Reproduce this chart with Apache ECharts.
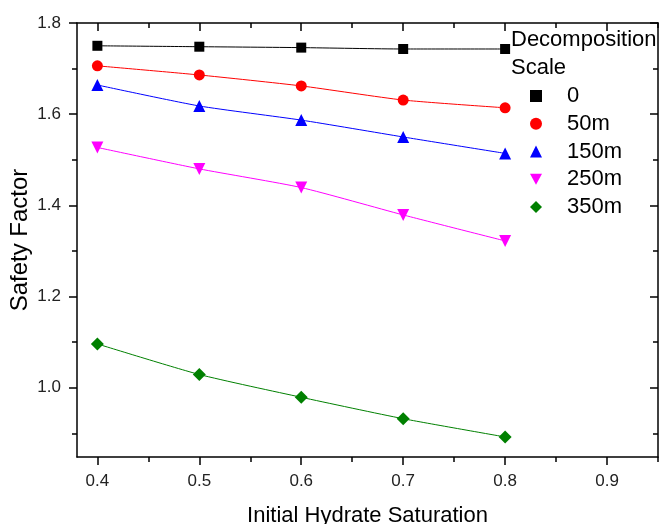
<!DOCTYPE html>
<html>
<head>
<meta charset="utf-8">
<script src="https://cdn.jsdelivr.net/npm/echarts@6/dist/echarts.min.js"></script>
<style>
  html, body { margin: 0; padding: 0; background: #fff; }
  #chart { width: 659px; height: 524px; }
</style>
</head>
<body>
<div id="chart"></div>
<script>
// saturation values on the x axis
const saturation = [0.4, 0.5, 0.6, 0.7, 0.8]

const scaleNames = ['0', '50m', '150m', '250m', '350m']
const scale0 = [1.750, 1.748, 1.746, 1.743, 1.743]
const scale50 = [1.706, 1.686, 1.662, 1.631, 1.614]
const scale150 = [1.664, 1.618, 1.587, 1.550, 1.514]
const scale250 = [1.527, 1.480, 1.439, 1.379, 1.322]
const scale350 = [1.096, 1.029, 0.979, 0.932, 0.892]

const xMajor = [0.4, 0.5, 0.6, 0.7, 0.8, 0.9]
const xMinor = [0.45, 0.55, 0.65, 0.75, 0.85, 0.95]
const yMajor = [1.0, 1.2, 1.4, 1.6, 1.8]
const yMinor = [0.9, 1.1, 1.3, 1.5, 1.7]

const colors = ['#000000', '#ff0000', '#0000ff', '#ff00ff', '#008000']
const symbols = ['rect', 'circle', 'triangle', 'path://M0,0 L10,0 L5,9 Z', 'diamond']
const symbolSizes = [10, 11, 12, 12, 13]

const chart = echarts.init(document.getElementById('chart'))

const X_MIN = 0.38, X_MAX = 0.95
const Y_MIN = 0.848, Y_MAX = 1.8
const font = 'Liberation Sans, Arial, sans-serif'

const tickAxis = (dim, pos, values, len, inside, extra) => Object.assign({
  type: 'value',
  position: pos,
  min: dim === 'x' ? X_MIN : Y_MIN,
  max: dim === 'x' ? X_MAX : Y_MAX,
  axisLine: { show: false },
  splitLine: { show: false },
  axisLabel: { show: false },
  axisTick: {
    show: true,
    inside: inside,
    length: len,
    customValues: values,
    lineStyle: { color: '#000', width: 1.5 }
  }
}, extra || {})

const makeSeries = (name, data, i) => ({
  name: name,
  type: 'line',
  xAxisIndex: 0,
  yAxisIndex: 0,
  smooth: 0.2,
  data: data.map((v, k) => [saturation[k], v]),
  symbol: symbols[i],
  symbolSize: symbolSizes[i],
  itemStyle: { color: colors[i] },
  lineStyle: { color: colors[i], width: 1 }
})

const option = {
  animation: false,
  title: {
    text: 'Decomposition\nScale',
    left: 511,
    top: 26,
    padding: 0,
    textStyle: { fontFamily: font, fontSize: 22, fontWeight: 'normal', color: '#000', lineHeight: 28 }
  },
  legend: {
    orient: 'vertical',
    left: 530,
    top: 85,
    padding: 0,
    itemWidth: 12,
    itemHeight: 12,
    itemGap: 5.75,
    textStyle: { fontFamily: font, fontSize: 22, color: '#000', padding: [0, 0, 0, 20] },
    data: scaleNames.map((n, i) => ({ name: n, icon: symbols[i] }))
  },
  grid: { left: 77, right: 1, top: 23, bottom: 67, outerBoundsMode: 'none' },
  xAxis: [
    {
      type: 'value',
      position: 'bottom',
      min: X_MIN,
      max: X_MAX,
      name: 'Initial Hydrate Saturation',
      nameLocation: 'middle',
      nameGap: 48,
      nameTextStyle: { fontFamily: font, fontSize: 22, color: '#000' },
      axisLine: { show: true, lineStyle: { color: '#000', width: 1.5 } },
      splitLine: { show: false },
      axisTick: { show: true, length: 8, customValues: xMajor, lineStyle: { color: '#000', width: 1.5 } },
      axisLabel: {
        customValues: xMajor,
        margin: 16,
        fontFamily: font,
        fontSize: 17,
        color: '#222',
        formatter: v => v.toFixed(1)
      }
    },
    tickAxis('x', 'bottom', xMinor, 5, false),
    tickAxis('x', 'top', xMajor, 8, true, { axisLine: { show: true, lineStyle: { color: '#000', width: 1.5 } } }),
    tickAxis('x', 'top', xMinor, 5, true)
  ],
  yAxis: [
    {
      type: 'value',
      position: 'left',
      min: Y_MIN,
      max: Y_MAX,
      name: 'Safety Factor',
      nameLocation: 'middle',
      nameGap: 45,
      nameMoveOverlap: false,
      nameTextStyle: { fontFamily: font, fontSize: 24, color: '#000' },
      axisLine: { show: true, lineStyle: { color: '#000', width: 1.5 } },
      splitLine: { show: false },
      axisTick: { show: true, length: 8, customValues: yMajor, lineStyle: { color: '#000', width: 1.5 } },
      axisLabel: {
        customValues: yMajor,
        margin: 16,
        fontFamily: font,
        fontSize: 17,
        color: '#222',
        formatter: v => v.toFixed(1)
      }
    },
    tickAxis('y', 'left', yMinor, 5, false),
    tickAxis('y', 'right', yMajor, 8, true, { axisLine: { show: true, lineStyle: { color: '#000', width: 1.5 } } }),
    tickAxis('y', 'right', yMinor, 5, true)
  ],
  series: [
    makeSeries(scaleNames[0], scale0, 0),
    makeSeries(scaleNames[1], scale50, 1),
    makeSeries(scaleNames[2], scale150, 2),
    makeSeries(scaleNames[3], scale250, 3),
    makeSeries(scaleNames[4], scale350, 4)
  ]
}

chart.setOption(option)
</script>
</body>
</html>
